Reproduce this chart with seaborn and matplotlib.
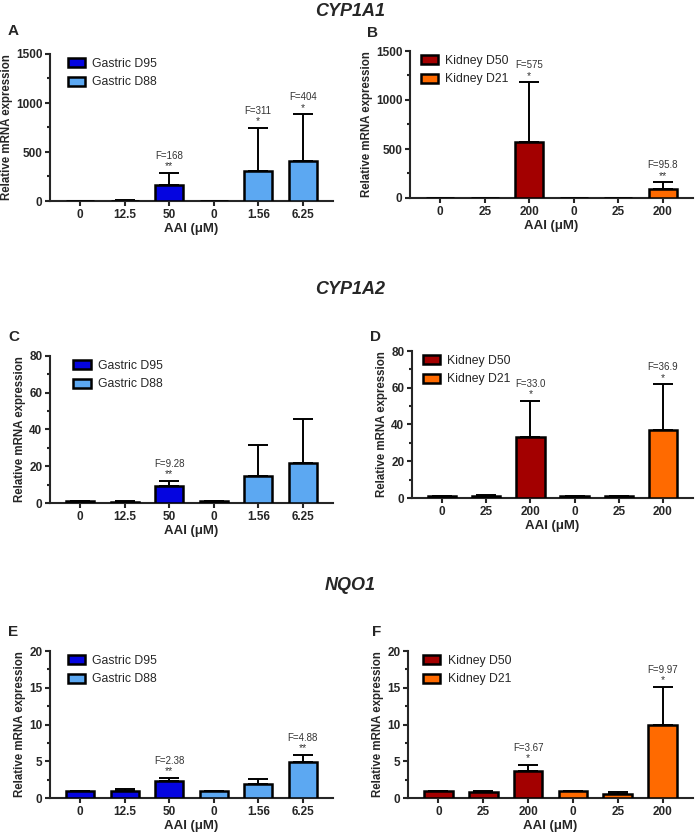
import numpy as np
import pandas as pd
import matplotlib
matplotlib.use('Agg')
import matplotlib.pyplot as plt
import seaborn as sns
from matplotlib.ticker import MultipleLocator

# --- datos ---
doses_gastric = ['0', '12.5', '50', '0', '1.56', '6.25']
doses_kidney = ['0', '25', '200', '0', '25', '200']
groups_gastric = ['Gastric D95'] * 3 + ['Gastric D88'] * 3
groups_kidney = ['Kidney D50'] * 3 + ['Kidney D21'] * 3

cyp1a1_gastric_mean = [1, 5, 168, 1, 311, 404]
cyp1a1_gastric_err = [0, 4, 117, 0, 434, 481]
cyp1a1_kidney_mean = [1, 3, 575, 1, 2, 95.8]
cyp1a1_kidney_err = [0, 2, 605, 0, 1, 64]

cyp1a2_gastric_mean = [1, 0.8, 9.28, 1, 14.5, 21.5]
cyp1a2_gastric_err = [0, 0.4, 2.9, 0, 17, 24]
cyp1a2_kidney_mean = [1, 1.2, 33.0, 1, 0.9, 36.9]
cyp1a2_kidney_err = [0, 0.6, 20, 0, 0.3, 25]

nqo1_gastric_mean = [1, 1.0, 2.38, 1, 1.85, 4.88]
nqo1_gastric_err = [0, 0.2, 0.32, 0, 0.75, 1.0]
nqo1_kidney_mean = [1, 0.8, 3.67, 1, 0.6, 9.97]
nqo1_kidney_err = [0, 0.15, 0.88, 0, 0.15, 5.2]

f_A = ['', '', 'F=168', '', 'F=311', 'F=404']
stars_A = ['', '', '**', '', '*', '*']
f_B = ['', '', 'F=575', '', '', 'F=95.8']
stars_B = ['', '', '*', '', '', '**']
f_C = ['', '', 'F=9.28', '', '', '']
stars_C = ['', '', '**', '', '', '']
f_D = ['', '', 'F=33.0', '', '', 'F=36.9']
stars_D = ['', '', '*', '', '', '*']
f_E = ['', '', 'F=2.38', '', '', 'F=4.88']
stars_E = ['', '', '**', '', '', '**']
f_F = ['', '', 'F=3.67', '', '', 'F=9.97']
stars_F = ['', '', '*', '', '', '*']

colores = {'Gastric D95': '#0505e0', 'Gastric D88': '#5ca8f2',
           'Kidney D50': '#a30000', 'Kidney D21': '#ff6a00'}

sns.set_style('ticks')
plt.rcParams['font.family'] = ['Liberation Sans', 'DejaVu Sans']
plt.rcParams['axes.linewidth'] = 1.5


def panel(fig, rect, doses, groups, means, errs, ymax, major, fl, st, leg_x):
    ax = fig.add_axes(rect)
    df = pd.DataFrame({'pos': [f'p{i}' for i in range(6)], 'valor': means,
                       'grupo': groups})
    sns.barplot(data=df, x='pos', y='valor', hue='grupo', dodge=False,
                palette=colores, saturation=1, width=0.64, edgecolor='black',
                linewidth=1.8, ax=ax, order=list(df['pos']), errorbar=None,
                zorder=3)
    x = np.arange(6)
    ax.errorbar(x, means, yerr=[np.zeros(6), errs], fmt='none', ecolor='black',
                elinewidth=1.4, capsize=7.5, capthick=1.4, zorder=2)
    for i in range(6):
        top = means[i] + errs[i]
        if st[i]:
            ax.text(x[i], top + 0.045 * ymax, st[i], ha='center', va='center',
                    fontsize=7.5, color='#333333')
        if fl[i]:
            ax.text(x[i], top + 0.115 * ymax, fl[i], ha='center', va='center',
                    fontsize=7, color='#333333')
    ax.set_ylim(0, ymax)
    ax.set_xlim(-0.68, 5.68)
    ax.yaxis.set_major_locator(MultipleLocator(major))
    ax.yaxis.set_minor_locator(MultipleLocator(major / 2))
    ax.set_xticks(x, doses)
    ax.tick_params(axis='both', labelsize=8.5, width=1.5, length=3.5, pad=2)
    ax.tick_params(axis='y', which='minor', width=1.5, length=2.5)
    for lab in ax.get_xticklabels() + ax.get_yticklabels():
        lab.set_fontweight('bold')
    ax.set_xlabel('AAI (μM)', fontsize=9.5, fontweight='bold', labelpad=2)
    ax.set_ylabel('Relative mRNA expression', fontsize=8.3, fontweight='bold',
                  labelpad=2)
    sns.despine(ax=ax)
    ax.legend(loc='upper left', bbox_to_anchor=(leg_x, 1.0), frameon=False,
              fontsize=8.8, handlelength=1.4, handleheight=0.75,
              handletextpad=0.6, labelspacing=0.55, borderaxespad=0,
              borderpad=0.3, title=None)
    return ax


fig = plt.figure(figsize=(7, 8.38), dpi=100)
H = 838.0


def rect(l, r, t, b):
    return [l / 700, 1 - b / H, (r - l) / 700, (b - t) / H]


panel(fig, rect(50, 333, 54, 201), doses_gastric, groups_gastric,
      cyp1a1_gastric_mean, cyp1a1_gastric_err, 1500, 500, f_A, stars_A, 0.05)
panel(fig, rect(410, 693, 51, 198), doses_kidney, groups_kidney,
      cyp1a1_kidney_mean, cyp1a1_kidney_err, 1500, 500, f_B, stars_B, 0.025)
panel(fig, rect(50, 333, 356, 503), doses_gastric, groups_gastric,
      cyp1a2_gastric_mean, cyp1a2_gastric_err, 80, 20, f_C, stars_C, 0.07)
panel(fig, rect(412, 693, 351, 498), doses_kidney, groups_kidney,
      cyp1a2_kidney_mean, cyp1a2_kidney_err, 80, 20, f_D, stars_D, 0.025)
panel(fig, rect(50, 333, 651, 798), doses_gastric, groups_gastric,
      nqo1_gastric_mean, nqo1_gastric_err, 20, 5, f_E, stars_E, 0.05)
panel(fig, rect(408, 693, 651, 798), doses_kidney, groups_kidney,
      nqo1_kidney_mean, nqo1_kidney_err, 20, 5, f_F, stars_F, 0.04)

# titulos de seccion y letras de panel
for txt, y in [('CYP1A1', 12), ('CYP1A2', 289), ('NQO1', 585)]:
    fig.text(0.5, 1 - y / H, txt, ha='center', va='center', fontsize=13,
             fontweight='bold', fontstyle='italic')
for letra, x, y in [('A', 8, 31), ('B', 367, 33), ('C', 8, 337),
                    ('D', 370, 337), ('E', 8, 632), ('F', 372, 632)]:
    fig.text(x / 700, 1 - y / H, letra, ha='left', va='center', fontsize=11,
             fontweight='bold')

fig.savefig('out.png', dpi=100)
